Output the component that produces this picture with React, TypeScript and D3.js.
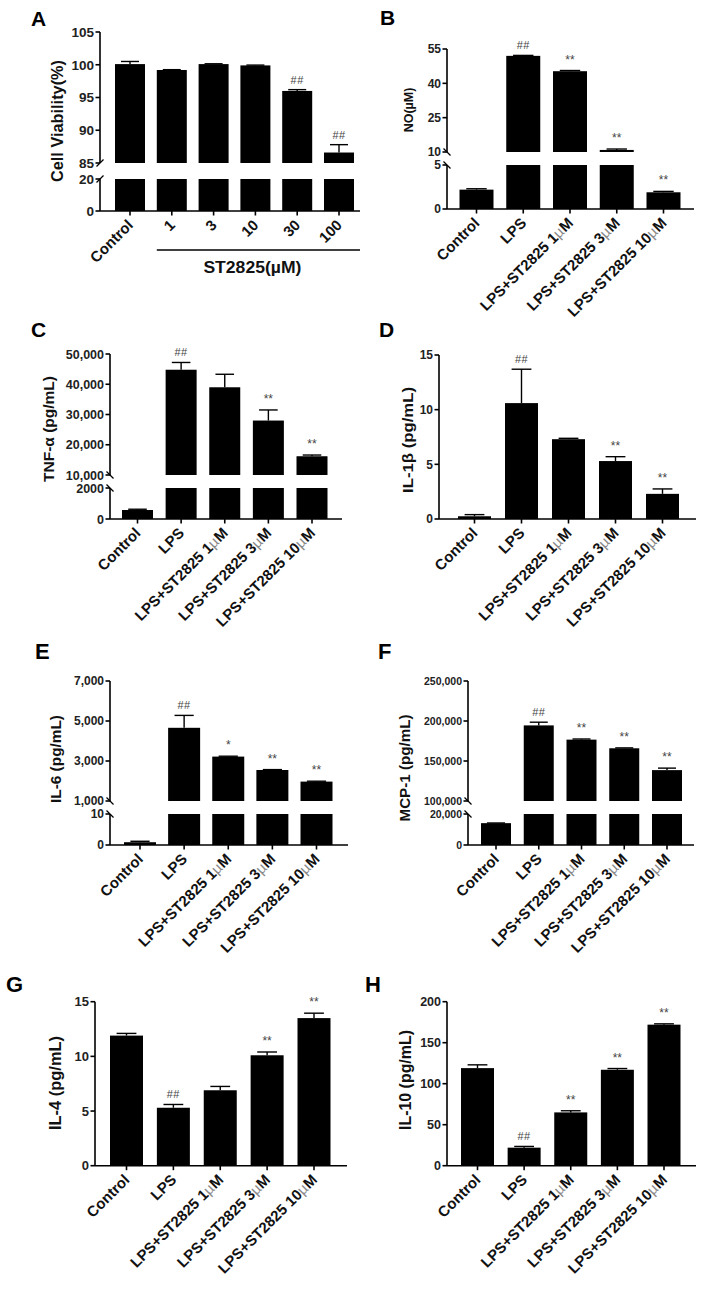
import React from "react";
import * as d3 from "d3";

const FONT = "'Liberation Sans', Arial, Helvetica, sans-serif";

// ---------------- DATA ----------------
const catsA = ["Control", "1", "3", "10", "30", "100"];
const valsA = [100.1, 99.2, 100.1, 99.9, 96.0, 86.6];
const errsA = [0.4, 0.05, 0.05, 0.05, 0.2, 1.2];
const sigA = ["", "", "", "", "##", "##"];
const ticksALow = [0, 20];
const ticksAHigh = [85, 90, 95, 100, 105];

const catsLPS = ["Control", "LPS", "LPS+ST2825 1µM", "LPS+ST2825 3µM", "LPS+ST2825 10µM"];

const valsB = [2.2, 52.0, 45.3, 10.9, 1.9];
const errsB = [0.1, 0.2, 0.3, 0.4, 0.1];
const sigB = ["", "##", "**", "**", "**"];
const ticksBLow = [0, 5];
const ticksBHigh = [10, 25, 40, 55];

const valsC = [580, 44800, 39000, 28000, 16200];
const errsC = [50, 2400, 4300, 3500, 400];
const sigC = ["", "##", "", "**", "**"];
const ticksCLow = [0, 2000];
const ticksCHigh = [10000, 20000, 30000, 40000, 50000];

const valsD = [0.25, 10.6, 7.3, 5.3, 2.3];
const errsD = [0.15, 3.1, 0.08, 0.4, 0.45];
const sigD = ["", "##", "", "**", "**"];
const ticksD = [0, 5, 10, 15];

const valsE = [0.9, 4660, 3220, 2550, 1970];
const errsE = [0.3, 620, 20, 20, 20];
const sigE = ["", "##", "*", "**", "**"];
const ticksELow = [0, 10];
const ticksEHigh = [1000, 3000, 5000, 7000];

const valsF = [14100, 194500, 176700, 165900, 138600];
const errsF = [100, 4000, 800, 500, 2500];
const sigF = ["", "##", "**", "**", "**"];
const ticksFLow = [0, 20000];
const ticksFHigh = [100000, 150000, 200000, 250000];

const valsG = [11.9, 5.3, 6.9, 10.1, 13.5];
const errsG = [0.2, 0.3, 0.35, 0.3, 0.45];
const sigG = ["", "##", "", "**", "**"];
const ticksG = [0, 5, 10, 15];

const valsH = [119, 22, 65, 117, 172];
const errsH = [4, 1.5, 2, 1.5, 1];
const sigH = ["", "##", "**", "**", "**"];
const ticksH = [0, 50, 100, 150, 200];

// ---------------- LAYOUT ----------------
type Seg = { lo: number; hi: number; y0: number; y1: number; ticks: number[]; fmt: (v: number) => string };
type Panel = {
  letter: string; lx: number; ly: number; lsize: number;
  axisX: number; axisEnd: number;
  segs: Seg[]; brk: number;
  cx0: number; cx1: number; barW: number;
  cats: string[]; vals: number[]; errs: number[]; sig: string[];
  title: string; tx: number; ty: number; tsize: number; tlen?: number;
  tickSize: number; labSize: number; labDx: number; labDy: number;
};

const comma = d3.format(",");
const plain = (v: number) => String(v);

const panels: Panel[] = [
  {
    letter: "A", lx: 31, ly: 26, lsize: 21, axisX: 100, axisEnd: 360,
    segs: [
      { lo: 0, hi: 20, y0: 211, y1: 179, ticks: ticksALow, fmt: plain },
      { lo: 85, hi: 105, y0: 163, y1: 32, ticks: ticksAHigh, fmt: plain },
    ], brk: 1,
    cx0: 130, cx1: 339, barW: 30, cats: catsA, vals: valsA, errs: errsA, sig: sigA,
    title: "Cell Viability(%)", tx: 63, ty: 121, tsize: 16, tlen: 122,
    tickSize: 13.5, labSize: 15, labDx: 4, labDy: 15,
  },
  {
    letter: "B", lx: 380, ly: 25, lsize: 21, axisX: 447, axisEnd: 694,
    segs: [
      { lo: 0, hi: 5, y0: 209, y1: 165, ticks: ticksBLow, fmt: plain },
      { lo: 10, hi: 55, y0: 152, y1: 49, ticks: ticksBHigh, fmt: plain },
    ], brk: -1,
    cx0: 476.5, cx1: 663.5, barW: 34, cats: catsLPS, vals: valsB, errs: errsB, sig: sigB,
    title: "NO(µM)", tx: 413, ty: 110, tsize: 12.5,
    tickSize: 12, labSize: 15, labDx: 4, labDy: 15,
  },
  {
    letter: "C", lx: 31, ly: 337, lsize: 21, axisX: 110, axisEnd: 342,
    segs: [
      { lo: 0, hi: 2000, y0: 519, y1: 488, ticks: ticksCLow, fmt: plain },
      { lo: 10000, hi: 50000, y0: 475, y1: 354, ticks: ticksCHigh, fmt: comma },
    ], brk: -1,
    cx0: 137.5, cx1: 312, barW: 31, cats: catsLPS, vals: valsC, errs: errsC, sig: sigC,
    title: "TNF-α (pg/mL)", tx: 54, ty: 429, tsize: 15, tlen: 106,
    tickSize: 12.5, labSize: 15, labDx: 4, labDy: 15,
  },
  {
    letter: "D", lx: 379, ly: 337, lsize: 21, axisX: 439, axisEnd: 696,
    segs: [
      { lo: 0, hi: 15, y0: 519, y1: 355, ticks: ticksD, fmt: plain },
    ], brk: 0,
    cx0: 474.5, cx1: 662.5, barW: 33, cats: catsLPS, vals: valsD, errs: errsD, sig: sigD,
    title: "IL-1β (pg/mL)", tx: 413, ty: 440, tsize: 15.5, tlen: 106,
    tickSize: 12, labSize: 15, labDx: 4, labDy: 15,
  },
  {
    letter: "E", lx: 35, ly: 659, lsize: 22, axisX: 110, axisEnd: 348,
    segs: [
      { lo: 0, hi: 10, y0: 845, y1: 814, ticks: ticksELow, fmt: plain },
      { lo: 1000, hi: 7000, y0: 801, y1: 681, ticks: ticksEHigh, fmt: comma },
    ], brk: -1,
    cx0: 140, cx1: 316.5, barW: 32, cats: catsLPS, vals: valsE, errs: errsE, sig: sigE,
    title: "IL-6 (pg/mL)", tx: 61, ty: 759, tsize: 15, tlen: 88,
    tickSize: 12, labSize: 15, labDx: 4, labDy: 15,
  },
  {
    letter: "F", lx: 378, ly: 659, lsize: 22, axisX: 468, axisEnd: 694,
    segs: [
      { lo: 0, hi: 20000, y0: 845, y1: 814, ticks: ticksFLow, fmt: comma },
      { lo: 100000, hi: 250000, y0: 801, y1: 681, ticks: ticksFHigh, fmt: comma },
    ], brk: -1,
    cx0: 496, cx1: 667, barW: 30, cats: catsLPS, vals: valsF, errs: errsF, sig: sigF,
    title: "MCP-1 (pg/mL)", tx: 410, ty: 768, tsize: 15, tlen: 107,
    tickSize: 10.5, labSize: 15, labDx: 4, labDy: 15,
  },
  {
    letter: "G", lx: 6, ly: 992, lsize: 22, axisX: 95, axisEnd: 347,
    segs: [
      { lo: 0, hi: 15, y0: 1165.7, y1: 1001.7, ticks: ticksG, fmt: plain },
    ], brk: 0,
    cx0: 126.5, cx1: 314, barW: 33, cats: catsLPS, vals: valsG, errs: errsG, sig: sigG,
    title: "IL-4 (pg/mL)", tx: 61, ty: 1083, tsize: 16, tlen: 94,
    tickSize: 13, labSize: 15, labDx: 4, labDy: 15,
  },
  {
    letter: "H", lx: 365, ly: 992, lsize: 22, axisX: 447, axisEnd: 696,
    segs: [
      { lo: 0, hi: 200, y0: 1165.7, y1: 1001.7, ticks: ticksH, fmt: plain },
    ], brk: 0,
    cx0: 477.5, cx1: 664, barW: 33, cats: catsLPS, vals: valsH, errs: errsH, sig: sigH,
    title: "IL-10 (pg/mL)", tx: 411, ty: 1080, tsize: 16, tlen: 100,
    tickSize: 12.5, labSize: 15, labDx: 4, labDy: 15,
  },
];

const LW = 1.6;

function XLabel({ text }: { text: string }) {
  const parts = text.split("µ");
  if (parts.length === 1) return <>{text}</>;
  return (
    <>
      {parts[0]}
      <tspan fill="#8a8a8a" fontWeight="normal">µ</tspan>
      {parts[1]}
    </>
  );
}

function PanelChart({ p }: { p: Panel }) {
  const low = p.segs[0];
  const high = p.segs[1];
  const lowS = d3.scaleLinear().domain([low.lo, low.hi]).range([low.y0, low.y1]);
  const highS = high ? d3.scaleLinear().domain([high.lo, high.hi]).range([high.y0, high.y1]) : null;
  const xS = d3.scalePoint<string>().domain(p.cats).range([p.cx0, p.cx1]);
  const zeroY = lowS(0);
  const scaleFor = (v: number) => (highS && v > low.hi ? highS : lowS);

  const brkMarks: JSX.Element[] = [];
  if (highS && high) {
    const ys = [lowS(low.hi), highS(high.lo)];
    ys.forEach((y, i) => {
      const d = p.brk;
      brkMarks.push(
        <line key={"bk" + i} x1={p.axisX - 3.5} y1={y + 3.5 * d} x2={p.axisX + 3.5} y2={y - 3.5 * d}
          stroke="#000" strokeWidth={1.3} />
      );
    });
  }

  return (
    <g fontFamily={FONT}>
      <text x={p.lx} y={p.ly} fontSize={p.lsize} fontWeight="bold" fill="#000">{p.letter}</text>

      {p.cats.map((c, i) => {
        const v = p.vals[i];
        const cx = xS(c) as number;
        const x = cx - p.barW / 2;
        if (!highS || v <= low.hi) {
          return <rect key={"b" + i} x={x} y={lowS(v)} width={p.barW} height={zeroY - lowS(v)} fill="#000" />;
        }
        return (
          <g key={"b" + i}>
            <rect x={x} y={lowS(low.hi)} width={p.barW} height={zeroY - lowS(low.hi)} fill="#000" />
            <rect x={x} y={highS(v)} width={p.barW} height={highS(high!.lo) - highS(v)} fill="#000" />
          </g>
        );
      })}

      {p.cats.map((c, i) => {
        const v = p.vals[i];
        const e = p.errs[i];
        const s = scaleFor(v);
        const cx = xS(c) as number;
        const yTop = s(v + e);
        const cap = p.barW * 0.6;
        const sg = p.sig[i];
        const isHash = sg.startsWith("#");
        return (
          <g key={"e" + i}>
            <line x1={cx} x2={cx} y1={s(v)} y2={yTop} stroke="#000" strokeWidth={1.4} />
            <line x1={cx - cap / 2} x2={cx + cap / 2} y1={yTop} y2={yTop} stroke="#000" strokeWidth={1.4} />
            {sg && (
              <text x={cx} y={isHash ? yTop - 6 : yTop - 7} textAnchor="middle"
                fontSize={isHash ? 11 : 12} fill="#444" letterSpacing={isHash ? 0.5 : 0}>
                {sg}
              </text>
            )}
          </g>
        );
      })}

      <line x1={p.axisX} x2={p.axisX} y1={zeroY} y2={lowS(low.hi)} stroke="#000" strokeWidth={LW} />
      {highS && high && (
        <line x1={p.axisX} x2={p.axisX} y1={highS(high.lo)} y2={highS(high.hi)} stroke="#000" strokeWidth={LW} />
      )}
      {brkMarks}
      {low.ticks.map((t) => (
        <g key={"lt" + t}>
          <line x1={p.axisX - 4.5} x2={p.axisX} y1={lowS(t)} y2={lowS(t)} stroke="#000" strokeWidth={LW} />
          <text x={p.axisX - 6} y={lowS(t)} dy="0.36em" textAnchor="end" fontSize={p.tickSize}
            fontWeight="bold" fill="#222">{low.fmt(t)}</text>
        </g>
      ))}
      {highS && high && high.ticks.map((t) => (
        <g key={"ht" + t}>
          <line x1={p.axisX - 4.5} x2={p.axisX} y1={highS(t)} y2={highS(t)} stroke="#000" strokeWidth={LW} />
          <text x={p.axisX - 6} y={highS(t)} dy="0.36em" textAnchor="end" fontSize={p.tickSize}
            fontWeight="bold" fill="#222">{high.fmt(t)}</text>
        </g>
      ))}

      <line x1={p.axisX} x2={p.axisEnd} y1={zeroY} y2={zeroY} stroke="#000" strokeWidth={LW} />
      {p.cats.map((c, i) => {
        const cx = xS(c) as number;
        return (
          <g key={"xt" + i}>
            <line x1={cx} x2={cx} y1={zeroY} y2={zeroY + 4.5} stroke="#000" strokeWidth={LW} />
            <text transform={`translate(${cx + p.labDx},${zeroY + p.labDy}) rotate(-45)`} textAnchor="end"
              fontSize={p.labSize} fontWeight="bold" fill="#111">
              <XLabel text={c} />
            </text>
          </g>
        );
      })}

      <text transform={`translate(${p.tx},${p.ty}) rotate(-90)`} textAnchor="middle" fontSize={p.tsize}
        fontWeight="bold" fill="#111" textLength={p.tlen} lengthAdjust={p.tlen ? "spacingAndGlyphs" : undefined}>
        {p.title}
      </text>
    </g>
  );
}

export default function App() {
  const pA = panels[0];
  const xA = d3.scalePoint<string>().domain(pA.cats).range([pA.cx0, pA.cx1]);
  const bracketX0 = (xA("1") as number) - 15;
  return (
    <svg width={702} height={1289} viewBox="0 0 702 1289"
      style={{ position: "absolute", left: 0, top: 0, background: "#fff" }}>
      <rect x={0} y={0} width={702} height={1289} fill="#fff" />
      {panels.map((p) => <PanelChart key={p.letter} p={p} />)}
      <line x1={bracketX0} x2={pA.axisEnd} y1={250} y2={250} stroke="#000" strokeWidth={1.6} />
      <text x={(bracketX0 + pA.axisEnd) / 2 - 6} y={273} textAnchor="middle" fontFamily={FONT} fontSize={16}
        fontWeight="bold" fill="#111" textLength={98} lengthAdjust="spacingAndGlyphs">ST2825(µM)</text>
    </svg>
  );
}
